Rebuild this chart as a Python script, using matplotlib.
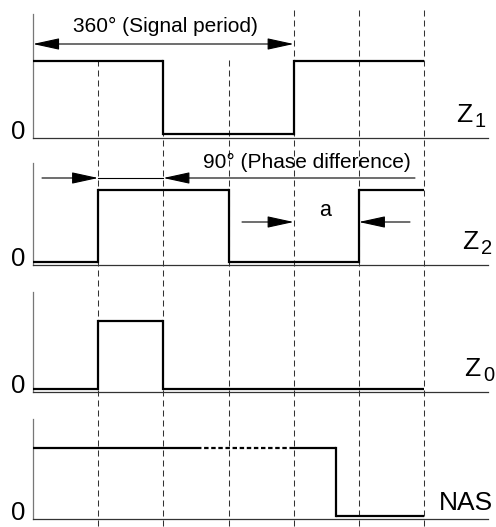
import matplotlib
matplotlib.use("Agg")
import matplotlib.pyplot as plt
import numpy as np

plt.rcParams['font.family'] = ['Liberation Sans', 'DejaVu Sans']
plt.rcParams['mathtext.fontset'] = 'custom'
plt.rcParams['mathtext.rm'] = 'Liberation Sans'
plt.rcParams['mathtext.it'] = 'Liberation Sans'

# ---- data (angles in degrees, levels 0/1) ----
grid_angles = [90, 180, 270, 360, 450, 540]
z1_edges = [0, 180, 360, 540]
z1_levels = [1, 0, 1]
z2_edges = [0, 90, 270, 450, 540]
z2_levels = [0, 1, 0, 1]
z0_edges = [0, 90, 180, 540]
z0_levels = [0, 1, 0]
nas_edges = [0, 226, 355, 418, 540]
nas_levels = [1, 1, 1, 0]
nas_styles = ['solid', 'dashed', 'solid', 'solid']
label_main = ['Z', 'Z', 'Z', 'NAS']
label_sub = ['1', '2', '0', '']
period_text = '360° (Signal period)'
phase_text = '90° (Phase difference)'
a_text = 'a'

# ---- layout (pixels) ----
W, H = 496, 527
px0 = 33.0
pxdeg = 65.17 / 90.0
fig = plt.figure(figsize=(W / 100, H / 100), dpi=100)
ax = fig.add_axes([0, 0, 1, 1])
ax.set_xlim(-px0 / pxdeg, (W - px0) / pxdeg)
ax.set_ylim(H, 0)
ax.axis('off')


def px(x):
    return (x - px0) / pxdeg


# panels: (axis top, baseline, high level, low level)
panels = [(14, 138, 61, 134), (163, 265, 190, 262), (292, 392, 321, 389), (419, 519, 448, 516)]
label_pos = [(456, 122), (462, 249), (464, 376), (439, 510)]

# dashed grid lines
for ang in grid_angles:
    top = 60 if ang <= 270 else 10
    ax.plot([ang, ang], [top, H], color='#333333', lw=0.75, ls=(0, (5.8, 3.8)), zorder=1)

x_end = px(488)
for (top, base, hi, lo), m, s, (lx, ly) in zip(panels, label_main, label_sub, label_pos):
    ax.plot([0, 0], [top, base], color='#777777', lw=0.9, zorder=2)
    ax.plot([0, x_end], [base, base], color='#333333', lw=0.9, zorder=2)
    ax.text(px(25), base + 1, '0', fontsize=18.5, ha='right', va='baseline')
    t = ax.text(px(lx), ly, m, fontsize=19, ha='left', va='baseline')
    if s:
        ax.text(px(lx + 19), ly + 5, s, fontsize=14.5, ha='left', va='baseline')


def lvl(p, v):
    top, base, hi, lo = panels[p]
    return lo - v * (lo - hi)


def step(p, edges, levels, styles=None):
    n = len(levels)
    if styles is None:
        styles = ['solid'] * n
    for i in range(n):
        ls = (0, (2.0, 1.2)) if styles[i] == 'dashed' else 'solid'
        y = lvl(p, levels[i])
        ax.plot([edges[i], edges[i + 1]], [y, y], color='black', lw=1.6, ls=ls,
                solid_capstyle='butt', zorder=3)
        if i + 1 < n and levels[i + 1] != levels[i]:
            ax.plot([edges[i + 1], edges[i + 1]], [y, lvl(p, levels[i + 1])],
                    color='black', lw=1.6, solid_capstyle='projecting', zorder=3)


step(0, z1_edges, z1_levels)
step(1, z2_edges, z2_levels)
step(2, z0_edges, z0_levels)
step(3, nas_edges, nas_levels, nas_styles)


def arrow(x0, x1, y, style='-|>'):
    ax.annotate('', xy=(x1, y), xytext=(x0, y),
                arrowprops=dict(arrowstyle=f'{style},head_length=1.65,head_width=0.36',
                                mutation_scale=10, lw=0.8, color='black',
                                shrinkA=0, shrinkB=0), zorder=4)


# 360 degree period
arrow(0, 360, 44, '<|-|>')
ax.text(px(165), 26, period_text, fontsize=15, ha='center', va='center')

# 90 degree phase difference
arrow(px(42), 90, 178)
ax.plot([90, 180], [178, 178], color='black', lw=0.8, zorder=4)
arrow(px(415), 180, 178)
ax.text(px(307), 162, phase_text, fontsize=15, ha='center', va='center')

# a dimension
arrow(px(242), 360, 222)
arrow(px(410), 450, 222)
ax.text(px(325), 210, a_text, fontsize=15.5, ha='center', va='center')

fig.savefig('out.png', dpi=100)
